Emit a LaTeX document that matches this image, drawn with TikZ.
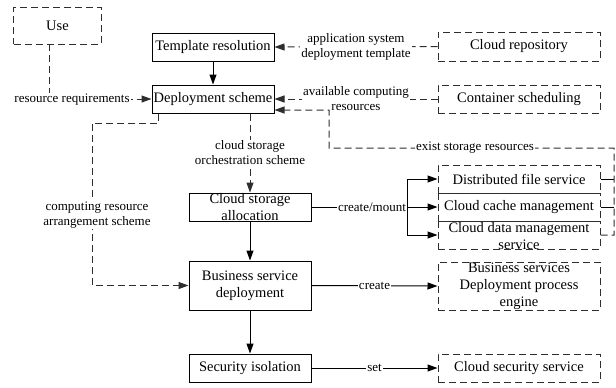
\documentclass[tikz,border=0pt]{standalone}
\usepackage{fontspec}
\setmainfont{Liberation Serif}
\usetikzlibrary{arrows.meta}
\definecolor{dgray}{HTML}{2E2E2E}
\begin{document}
\begin{tikzpicture}[x=1bp,y=-1bp,
  every node/.style={font=\fontsize{14.5bp}{17bp}\selectfont, inner sep=0pt, align=center},
  sbox/.style={draw=black, line width=1bp, minimum width=122bp, minimum height=28bp},
  dbox/.style={draw=dgray, line width=1bp, dash pattern=on 7bp off 4bp, minimum width=162bp, minimum height=28bp},
  lab/.style={font=\fontsize{13bp}{15bp}\selectfont, fill=white, inner sep=1bp},
  sline/.style={draw=black, line width=1bp},
  dline/.style={draw=dgray, line width=1bp, dash pattern=on 7bp off 4bp},
  tip/.style={-{Triangle[length=10bp,width=7bp]}},
]
\useasboundingbox (0,0) rectangle (616,387);

% main chain
\node[sbox] (tmpl)   at (213,47)    {Template resolution};
\node[sbox] (deploy) at (213,99)    {Deployment scheme};
\node[sbox] (csa)    at (250,207)   {Cloud storage\\allocation};
\node[sbox, minimum height=49bp] (bsd) at (250,285.5) {Business service\\deployment};
\node[sbox] (sec)    at (250,368)   {Security isolation};

% external services
\node[dbox, minimum width=87bp, minimum height=37bp] (use) at (57.5,25.5) {Use};
\node[dbox, minimum height=29bp] (repo) at (519,46.5) {Cloud repository};
\node[dbox] (cont) at (519,99)  {Container scheduling};
\node[dbox] (dfs)  at (519,179) {Distributed file service};
\node[dbox] (ccm)  at (519,207) {Cloud cache management};
\node[dbox] (cdm)  at (519,235) {};
\node (cdmtxt) at (519,236.5) {Cloud data management\\service};
\node[dbox, minimum height=48bp] (bde) at (519,286) {};
\node (bdetxt) at (519,286) {Business services\\Deployment process\\engine};
\node[dbox] (css)  at (519,368) {Cloud security service};

% helper points
\coordinate (useleg) at (49,44);
\coordinate (bend)   at (92,123);
\coordinate (fork)   at (407,207);
\coordinate (colr)   at (614,148);
\coordinate (coll)   at (329,148);

% solid flow
\draw[sline,tip] (tmpl) -- (deploy);
\draw[sline,tip] (csa) -- (bsd);
\draw[sline,tip] (bsd) -- (sec);

% inputs to the templates and scheme
\draw[dline,tip] (useleg) |- (deploy.west);
\node[lab] (rr) at (72,100) {resource requirements};
\draw[dline,tip] (repo.west) -- node[lab] (ast) {application system\\deployment template} (tmpl.east);
\draw[dline,tip] (cont.west) -- node[lab] (acr) {available computing\\resources} (deploy.east);

% storage resources fed back
\draw[sline] (dfs.east) -- (dfs.east -| colr);
\draw[sline] (ccm.east) -- (ccm.east -| colr);
\draw[dline,tip] (cdm.east) -- (cdm.east -| colr) -- (colr) -- (coll) -- (coll |- 0,110) -- ([yshift=-11bp]deploy.east);
\node[lab] (esr) at (475,148) {exist storage resources};

% scheme outputs
\draw[dline,tip] (deploy.south -| csa.north) -- node[lab] (csos) {cloud storage\\orchestration scheme} (csa.north);
\draw[dline,tip] ([xshift=7bp]deploy.south west) |- (bend) |- (bsd.west);
\node[lab] (cras) at (97,215) {computing resource\\arrangement scheme};

% storage creation
\draw[sline] (csa.east) -- (fork);
\node[lab] (cm) at (372,207) {create/mount};
\draw[sline] (fork |- dfs.west) -- (fork |- cdm.west);
\draw[sline,tip] (fork) -- (ccm.west);
\draw[sline,tip] (fork |- dfs.west) -- (dfs.west);
\draw[sline,tip] (fork |- cdm.west) -- (cdm.west);

\draw[sline,tip] (bsd.east) -- node[lab] (cr) {create} (bde.west);
\draw[sline,tip] (sec.east) -- node[lab] (st) {set} (css.west);
\end{tikzpicture}
\end{document}
